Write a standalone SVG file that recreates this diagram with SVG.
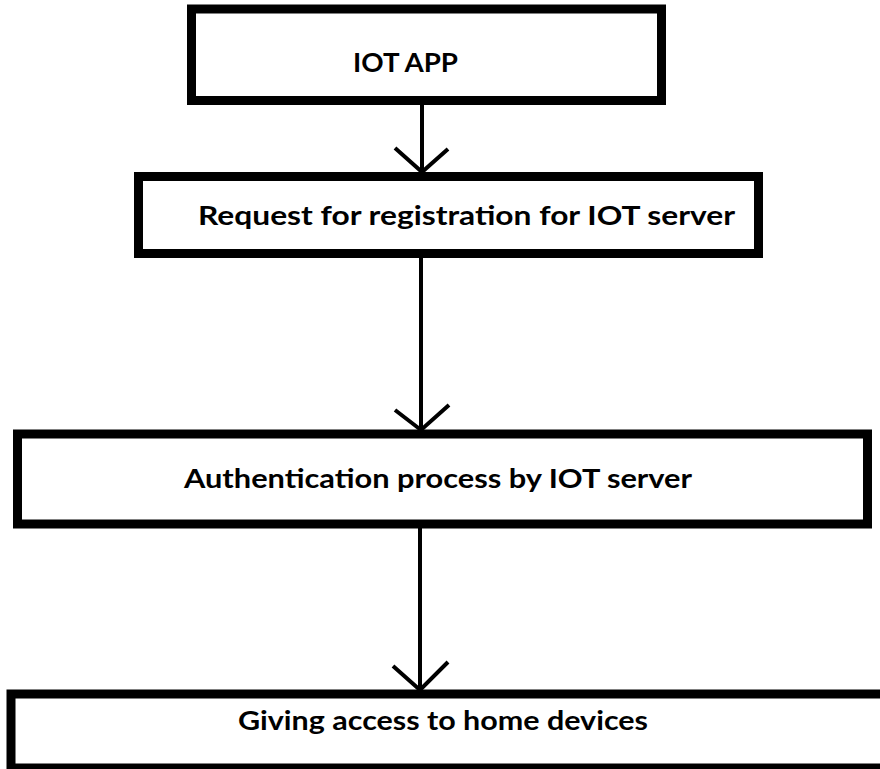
<svg xmlns="http://www.w3.org/2000/svg" width="880" height="769" viewBox="0 0 880 769">
<style>
.box{fill:#fff;stroke:#000;stroke-width:9}
.lbl{font-family:Lato,"Open Sans","Liberation Sans",sans-serif;font-weight:bold;font-size:26px;fill:#000}
.con{fill:none;stroke:#000;stroke-width:4;stroke-linecap:butt;stroke-linejoin:miter}
</style>
<rect width="880" height="769" fill="#fff"/>
<g id="connectors">
<path class="con" d="M422 105V172M395 148L422 172L448 149"/>
<path class="con" d="M421 258V430M395 410L421 430L449 405"/>
<path class="con" d="M420 528V690M393 666L420 690L448 662"/>
</g>
<g id="n1"><rect class="box" x="191.5" y="9" width="470" height="91.5"/>
<text class="lbl" x="353" y="72" textLength="105" lengthAdjust="spacingAndGlyphs">IOT APP</text></g>
<g id="n2"><rect class="box" x="138.5" y="176.5" width="620" height="77"/>
<text class="lbl" x="198" y="225" textLength="537" lengthAdjust="spacingAndGlyphs">Request for registration for IOT server</text></g>
<g id="n3"><rect class="box" x="17.5" y="434" width="850" height="90"/>
<text class="lbl" x="184" y="488" textLength="508" lengthAdjust="spacingAndGlyphs">Authentication process by IOT server</text></g>
<g id="n4"><rect class="box" x="11" y="694" width="900" height="74"/>
<text class="lbl" x="238" y="730" textLength="410" lengthAdjust="spacingAndGlyphs">Giving access to home devices</text></g>
</svg>
